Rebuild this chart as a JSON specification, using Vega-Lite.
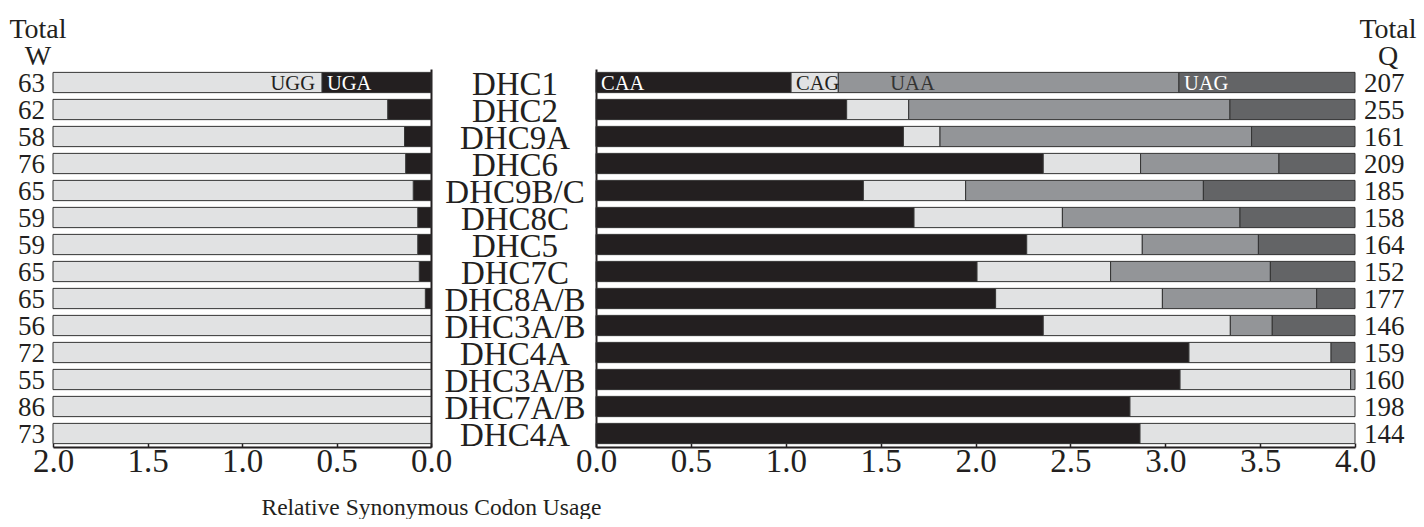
{
  "$schema": "https://vega.github.io/schema/vega-lite/v6.json",
  "padding": {"left": 9, "top": 15, "right": 0, "bottom": 0},
  "bounds": "flush",
  "spacing": 165,
  "resolve": {"scale": {"color": "independent"}},
  "config": {
    "font": "Liberation Serif",
    "view": {"stroke": null},
    "axis": {"labelFont": "Liberation Serif", "titleFont": "Liberation Serif", "labelColor": "#231f20", "titleColor": "#231f20", "domainColor": "#231f20", "tickColor": "#231f20", "grid": false},
    "title": {"font": "Liberation Serif", "fontWeight": "normal", "color": "#231f20"}
  },
  "datasets": {
    "w": [
      {"row": 1, "gene": "DHC1", "total": 63, "codon": "UGA", "rscu": 0.577},
      {"row": 1, "gene": "DHC1", "total": 63, "codon": "UGG", "rscu": 1.423},
      {"row": 2, "gene": "DHC2", "total": 62, "codon": "UGA", "rscu": 0.229},
      {"row": 2, "gene": "DHC2", "total": 62, "codon": "UGG", "rscu": 1.771},
      {"row": 3, "gene": "DHC9A", "total": 58, "codon": "UGA", "rscu": 0.140},
      {"row": 3, "gene": "DHC9A", "total": 58, "codon": "UGG", "rscu": 1.860},
      {"row": 4, "gene": "DHC6", "total": 76, "codon": "UGA", "rscu": 0.134},
      {"row": 4, "gene": "DHC6", "total": 76, "codon": "UGG", "rscu": 1.866},
      {"row": 5, "gene": "DHC9B/C", "total": 65, "codon": "UGA", "rscu": 0.094},
      {"row": 5, "gene": "DHC9B/C", "total": 65, "codon": "UGG", "rscu": 1.906},
      {"row": 6, "gene": "DHC8C", "total": 59, "codon": "UGA", "rscu": 0.070},
      {"row": 6, "gene": "DHC8C", "total": 59, "codon": "UGG", "rscu": 1.930},
      {"row": 7, "gene": "DHC5", "total": 59, "codon": "UGA", "rscu": 0.070},
      {"row": 7, "gene": "DHC5", "total": 59, "codon": "UGG", "rscu": 1.930},
      {"row": 8, "gene": "DHC7C", "total": 65, "codon": "UGA", "rscu": 0.062},
      {"row": 8, "gene": "DHC7C", "total": 65, "codon": "UGG", "rscu": 1.938},
      {"row": 9, "gene": "DHC8A/B", "total": 65, "codon": "UGA", "rscu": 0.030},
      {"row": 9, "gene": "DHC8A/B", "total": 65, "codon": "UGG", "rscu": 1.970},
      {"row": 10, "gene": "DHC3A/B", "total": 56, "codon": "UGG", "rscu": 2.0},
      {"row": 11, "gene": "DHC4A", "total": 72, "codon": "UGG", "rscu": 2.0},
      {"row": 12, "gene": "DHC3A/B", "total": 55, "codon": "UGG", "rscu": 2.0},
      {"row": 13, "gene": "DHC7A/B", "total": 86, "codon": "UGG", "rscu": 2.0},
      {"row": 14, "gene": "DHC4A", "total": 73, "codon": "UGG", "rscu": 2.0}
    ],
    "q": [
      {"row": 1, "gene": "DHC1", "total": 207, "codon": "CAA", "rscu": 1.028},
      {"row": 1, "gene": "DHC1", "total": 207, "codon": "CAG", "rscu": 0.249},
      {"row": 1, "gene": "DHC1", "total": 207, "codon": "UAA", "rscu": 1.795},
      {"row": 1, "gene": "DHC1", "total": 207, "codon": "UAG", "rscu": 0.928},
      {"row": 2, "gene": "DHC2", "total": 255, "codon": "CAA", "rscu": 1.321},
      {"row": 2, "gene": "DHC2", "total": 255, "codon": "CAG", "rscu": 0.327},
      {"row": 2, "gene": "DHC2", "total": 255, "codon": "UAA", "rscu": 1.693},
      {"row": 2, "gene": "DHC2", "total": 255, "codon": "UAG", "rscu": 0.659},
      {"row": 3, "gene": "DHC9A", "total": 161, "codon": "CAA", "rscu": 1.620},
      {"row": 3, "gene": "DHC9A", "total": 161, "codon": "CAG", "rscu": 0.193},
      {"row": 3, "gene": "DHC9A", "total": 161, "codon": "UAA", "rscu": 1.642},
      {"row": 3, "gene": "DHC9A", "total": 161, "codon": "UAG", "rscu": 0.545},
      {"row": 4, "gene": "DHC6", "total": 209, "codon": "CAA", "rscu": 2.357},
      {"row": 4, "gene": "DHC6", "total": 209, "codon": "CAG", "rscu": 0.513},
      {"row": 4, "gene": "DHC6", "total": 209, "codon": "UAA", "rscu": 0.729},
      {"row": 4, "gene": "DHC6", "total": 209, "codon": "UAG", "rscu": 0.401},
      {"row": 5, "gene": "DHC9B/C", "total": 185, "codon": "CAA", "rscu": 1.409},
      {"row": 5, "gene": "DHC9B/C", "total": 185, "codon": "CAG", "rscu": 0.539},
      {"row": 5, "gene": "DHC9B/C", "total": 185, "codon": "UAA", "rscu": 1.253},
      {"row": 5, "gene": "DHC9B/C", "total": 185, "codon": "UAG", "rscu": 0.799},
      {"row": 6, "gene": "DHC8C", "total": 158, "codon": "CAA", "rscu": 1.676},
      {"row": 6, "gene": "DHC8C", "total": 158, "codon": "CAG", "rscu": 0.782},
      {"row": 6, "gene": "DHC8C", "total": 158, "codon": "UAA", "rscu": 0.936},
      {"row": 6, "gene": "DHC8C", "total": 158, "codon": "UAG", "rscu": 0.606},
      {"row": 7, "gene": "DHC5", "total": 164, "codon": "CAA", "rscu": 2.270},
      {"row": 7, "gene": "DHC5", "total": 164, "codon": "CAG", "rscu": 0.609},
      {"row": 7, "gene": "DHC5", "total": 164, "codon": "UAA", "rscu": 0.612},
      {"row": 7, "gene": "DHC5", "total": 164, "codon": "UAG", "rscu": 0.509},
      {"row": 8, "gene": "DHC7C", "total": 152, "codon": "CAA", "rscu": 2.008},
      {"row": 8, "gene": "DHC7C", "total": 152, "codon": "CAG", "rscu": 0.704},
      {"row": 8, "gene": "DHC7C", "total": 152, "codon": "UAA", "rscu": 0.842},
      {"row": 8, "gene": "DHC7C", "total": 152, "codon": "UAG", "rscu": 0.446},
      {"row": 9, "gene": "DHC8A/B", "total": 177, "codon": "CAA", "rscu": 2.106},
      {"row": 9, "gene": "DHC8A/B", "total": 177, "codon": "CAG", "rscu": 0.879},
      {"row": 9, "gene": "DHC8A/B", "total": 177, "codon": "UAA", "rscu": 0.813},
      {"row": 9, "gene": "DHC8A/B", "total": 177, "codon": "UAG", "rscu": 0.202},
      {"row": 10, "gene": "DHC3A/B", "total": 146, "codon": "CAA", "rscu": 2.357},
      {"row": 10, "gene": "DHC3A/B", "total": 146, "codon": "CAG", "rscu": 0.986},
      {"row": 10, "gene": "DHC3A/B", "total": 146, "codon": "UAA", "rscu": 0.221},
      {"row": 10, "gene": "DHC3A/B", "total": 146, "codon": "UAG", "rscu": 0.436},
      {"row": 11, "gene": "DHC4A", "total": 159, "codon": "CAA", "rscu": 3.125},
      {"row": 11, "gene": "DHC4A", "total": 159, "codon": "CAG", "rscu": 0.749},
      {"row": 11, "gene": "DHC4A", "total": 159, "codon": "UAG", "rscu": 0.126},
      {"row": 12, "gene": "DHC3A/B", "total": 160, "codon": "CAA", "rscu": 3.078},
      {"row": 12, "gene": "DHC3A/B", "total": 160, "codon": "CAG", "rscu": 0.899},
      {"row": 12, "gene": "DHC3A/B", "total": 160, "codon": "UAA", "rscu": 0.023},
      {"row": 13, "gene": "DHC7A/B", "total": 198, "codon": "CAA", "rscu": 2.814},
      {"row": 13, "gene": "DHC7A/B", "total": 198, "codon": "CAG", "rscu": 1.186},
      {"row": 14, "gene": "DHC4A", "total": 144, "codon": "CAA", "rscu": 2.867},
      {"row": 14, "gene": "DHC4A", "total": 144, "codon": "CAG", "rscu": 1.133}
    ]
  },
  "hconcat": [
    {
      "width": 378,
      "height": 378,
      "data": {"name": "w"},
      "title": {"text": ["Total", "W"], "frame": "group", "anchor": "start", "align": "center", "dx": -15, "fontSize": 28, "lineHeight": 27, "offset": -30, "baseline": "bottom"},
      "transform": [{"stack": "rscu", "groupby": ["row"], "sort": [{"field": "codon", "order": "ascending"}], "as": ["v0", "v1"]}],
      "encoding": {
        "y": {"field": "row", "type": "ordinal", "scale": {"paddingInner": 0.25, "paddingOuter": 0.125}, "axis": {"orient": "right", "labels": false, "ticks": false, "domain": true, "domainWidth": 2, "title": null}}
      },
      "layer": [
        {
          "mark": {"type": "bar", "stroke": "#333333", "strokeWidth": 1},
          "encoding": {
            "x": {"field": "v0", "type": "quantitative", "scale": {"domain": [0, 2], "reverse": true, "nice": false}, "axis": {"values": [0, 0.5, 1, 1.5, 2], "format": ".1f", "labelFontSize": 33, "labelPadding": 2, "tickSize": -4, "domainWidth": 2, "tickWidth": 1.5, "labelFlush": false, "title": "Relative Synonymous Codon Usage", "titleFontSize": 23.5, "titleFontWeight": "normal", "titleX": 378, "titleY": 67, "titleBaseline": "alphabetic", "titleAlign": "center"}},
            "x2": {"field": "v1"},
            "color": {"field": "codon", "type": "nominal", "scale": {"domain": ["UGG", "UGA"], "range": ["#e1e2e3", "#231f20"]}, "legend": null}
          }
        },
        {
          "transform": [{"filter": "datum.codon === 'UGG'"}],
          "mark": {"type": "text", "align": "right", "baseline": "middle", "dx": -8, "dy": 1, "fontSize": 27, "color": "#231f20"},
          "encoding": {"x": {"datum": 2, "type": "quantitative"}, "text": {"field": "total"}}
        },
        {
          "transform": [{"filter": "datum.row === 1 && datum.codon === 'UGA'"}],
          "mark": {"type": "text", "align": "left", "baseline": "middle", "dx": 5, "dy": 1, "fontSize": 20.5, "color": "white"},
          "encoding": {"x": {"field": "v1", "type": "quantitative"}, "text": {"field": "codon"}}
        },
        {
          "transform": [{"filter": "datum.row === 1 && datum.codon === 'UGG'"}],
          "mark": {"type": "text", "align": "right", "baseline": "middle", "dx": -7, "dy": 1, "fontSize": 20.5, "color": "#231f20"},
          "encoding": {"x": {"field": "v0", "type": "quantitative"}, "text": {"field": "codon"}}
        }
      ]
    },
    {
      "width": 759,
      "height": 378,
      "data": {"name": "q"},
      "title": {"text": ["Total", "Q"], "frame": "group", "anchor": "end", "align": "center", "dx": 33, "fontSize": 28, "lineHeight": 27, "offset": -30, "baseline": "bottom"},
      "transform": [{"stack": "rscu", "groupby": ["row"], "sort": [{"field": "codon", "order": "ascending"}], "as": ["v0", "v1"]}],
      "encoding": {
        "y": {"field": "row", "type": "ordinal", "scale": {"paddingInner": 0.25, "paddingOuter": 0.125}, "axis": {"orient": "left", "labels": false, "ticks": false, "domain": true, "domainWidth": 2, "title": null}}
      },
      "layer": [
        {
          "mark": {"type": "bar", "stroke": "#333333", "strokeWidth": 1},
          "encoding": {
            "x": {"field": "v0", "type": "quantitative", "scale": {"domain": [0, 4], "nice": false}, "axis": {"values": [0, 0.5, 1, 1.5, 2, 2.5, 3, 3.5, 4], "format": ".1f", "labelFontSize": 33, "labelPadding": 2, "tickSize": -4, "domainWidth": 2, "tickWidth": 1.5, "labelFlush": false, "title": null}},
            "x2": {"field": "v1"},
            "color": {"field": "codon", "type": "nominal", "scale": {"domain": ["CAA", "CAG", "UAA", "UAG"], "range": ["#231f20", "#e1e2e3", "#939598", "#636466"]}, "legend": null}
          }
        },
        {
          "transform": [{"filter": "datum.codon === 'CAA'"}],
          "mark": {"type": "text", "align": "center", "baseline": "middle", "dx": -81, "dy": 2, "fontSize": 33, "color": "#231f20"},
          "encoding": {"x": {"datum": 0, "type": "quantitative"}, "text": {"field": "gene"}}
        },
        {
          "transform": [{"filter": "datum.codon === 'CAA'"}],
          "mark": {"type": "text", "align": "left", "baseline": "middle", "dx": 9, "dy": 1, "fontSize": 27, "color": "#231f20"},
          "encoding": {"x": {"datum": 4, "type": "quantitative"}, "text": {"field": "total"}}
        },
        {
          "transform": [{"filter": "datum.row === 1 && datum.codon !== 'UAA'"}],
          "mark": {"type": "text", "align": "left", "baseline": "middle", "dx": 5, "dy": 1, "fontSize": 20.5},
          "encoding": {
            "x": {"field": "v0", "type": "quantitative"},
            "text": {"field": "codon"},
            "color": {"condition": {"test": "datum.codon === 'CAG'", "value": "#231f20"}, "value": "white"}
          }
        },
        {
          "transform": [{"filter": "datum.row === 1 && datum.codon === 'UAA'"}],
          "mark": {"type": "text", "align": "left", "baseline": "middle", "dx": 52, "dy": 1, "fontSize": 20.5, "color": "#333333"},
          "encoding": {"x": {"field": "v0", "type": "quantitative"}, "text": {"field": "codon"}}
        }
      ]
    }
  ]
}
